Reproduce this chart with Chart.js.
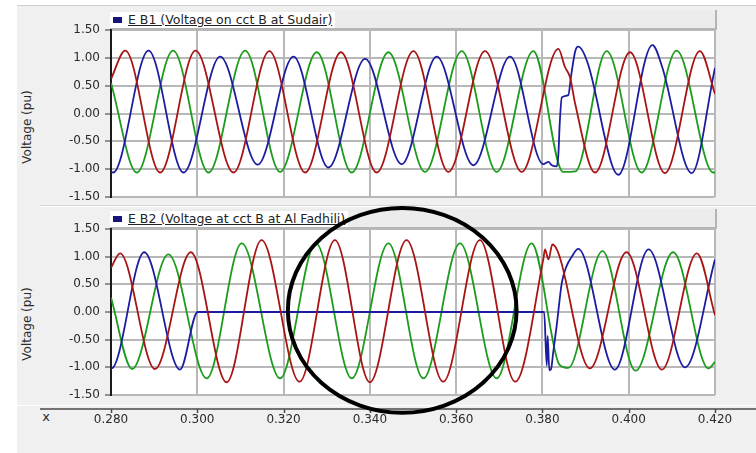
<!DOCTYPE html>
<html lang="en">
<head>
<meta charset="UTF-8" />
<title>Voltage on cct B</title>
<script src="https://cdn.jsdelivr.net/npm/chart.js"></script>
<style>
  * { margin: 0; padding: 0; box-sizing: border-box; }
  body { width: 756px; height: 453px; background: #fff; position: relative; overflow: hidden; font-family: "DejaVu Sans", sans-serif; color: #2a2a2a; }
  #frame { position: absolute; left: 17px; top: 5px; right: 0; bottom: 0; background: #f0f0f0; border-top: 1px solid #cfcfcf; }
  .sep { position: absolute; left: 40px; right: 0; height: 1px; }
  .hdr { position: absolute; left: 110px; width: 607px; height: 20px; background: #ececec; border-right: 2px solid #b4b4b4; border-bottom: 2px solid #b4b4b4; }
  .item { position: absolute; left: 0; top: 2px; height: 16px; background: #fff; padding-left: 18px; padding-right: 3px; font-size: 12.5px; line-height: 16px; color: #222; text-decoration: underline; white-space: nowrap; }
  .item i { position: absolute; left: 3px; top: 5px; width: 9px; height: 6px; background: #14147a; }
  .ytitle { position: absolute; left: 27px; font-size: 12px; white-space: nowrap; transform: translate(-50%, -50%) rotate(-90deg); }
  #xname { position: absolute; left: 46px; top: 416px; transform: translate(-50%, -50%); font-size: 13px; }
  .box { position: absolute; left: 0; width: 756px; }
</style>
</head>
<body>
<div id="frame"></div>
<div class="sep" style="top:205px;background:#d6d6d6"></div>
<div class="sep" style="top:206px;background:#fff"></div>
<div class="hdr" style="top:10px"><span class="item"><i></i>E B1 (Voltage on cct B at Sudair)</span></div>
<div class="hdr" style="top:209px"><span class="item"><i></i>E B2 (Voltage at cct B at Al Fadhili)</span></div>
<div class="ytitle" style="top:127px">Voltage (pu)</div>
<div class="ytitle" style="top:324px">Voltage (pu)</div>
<div id="xname">x</div>
<div class="box" style="top:0;height:205px"><canvas id="topChart"></canvas></div>
<div class="box" style="top:205px;height:248px"><canvas id="bottomChart"></canvas></div>

<script>
  // axis ranges
  const xMin = 0.28, xMax = 0.42, xStep = 0.02;
  const yMin = -1.5, yMax = 1.5, yStep = 0.5;

  // E B1 (Sudair): [time s, voltage pu], peaks / troughs
  const b1Red = [
    [0.2800, 0.62], [0.2833, 1.13], [0.2914, -1.06], [0.2996, 1.13], [0.3084, -1.06],
    [0.3167, 1.12], [0.3250, -1.06], [0.3333, 1.10], [0.3416, -1.06], [0.3501, 1.12],
    [0.3582, -1.05], [0.3667, 1.12], [0.3752, -1.05], [0.3837, 1.16], [0.3852, 0.84],
    [0.3864, 0.65], [0.3876, 0.17], [0.3922, -1.06], [0.4003, 1.10], [0.4084, -1.07],
    [0.4165, 1.12], [0.4200, 0.35]
  ];
  const b1Blue = [
    [0.2800, -1.05], [0.2805, -1.06], [0.2887, 1.13], [0.2968, -1.06], [0.3053, 1.02],
    [0.3140, -0.92], [0.3223, 1.02], [0.3304, -0.97], [0.3389, 0.98], [0.3474, -0.91],
    [0.3555, 1.02], [0.3640, -0.93], [0.3725, 1.02], [0.3802, -0.91], [0.3814, -0.87],
    [0.3822, -0.93], [0.3833, -0.95], [0.3837, -0.73], [0.3840, -0.19], [0.3845, 0.29],
    [0.3860, 0.33], [0.3866, 0.65], [0.3876, 1.12], [0.3883, 1.20], [0.3906, 0.88],
    [0.3961, -0.92], [0.3976, -1.10], [0.4055, 1.23], [0.4077, 0.85], [0.4146, -1.07],
    [0.4200, 0.82]
  ];
  const b1Green = [
    [0.2800, 0.55], [0.2860, -1.06], [0.2944, 1.13], [0.3026, -1.06], [0.3111, 1.13],
    [0.3192, -1.05], [0.3277, 1.10], [0.3358, -1.06], [0.3443, 1.10], [0.3528, -1.05],
    [0.3613, 1.12], [0.3694, -1.05], [0.3779, 1.12], [0.3848, -1.05], [0.3876, -1.04],
    [0.3949, 1.12], [0.4030, -1.06], [0.4111, 1.13], [0.4196, -1.06], [0.4200, -1.06]
  ];

  // E B2 (Al Fadhili)
  const b2Red = [
    [0.2800, 0.80], [0.2821, 1.06], [0.2902, -1.03], [0.2985, 1.08], [0.3068, -1.27],
    [0.3149, 1.30], [0.3237, -1.26], [0.3319, 1.30], [0.3400, -1.27], [0.3485, 1.30],
    [0.3570, -1.26], [0.3655, 1.30], [0.3737, -1.26], [0.3802, 0.95], [0.3806, 1.13],
    [0.3814, 0.95], [0.3823, 1.22], [0.3910, -1.02], [0.3995, 1.08], [0.4077, -1.04],
    [0.4158, 1.06], [0.4200, -0.06]
  ];
  const b2Blue = [
    [0.2800, -1.02], [0.2801, -1.02], [0.2877, 1.08], [0.2960, -1.04], [0.3001, 0.00],
    [0.3804, 0.00], [0.3810, -0.97], [0.3812, -0.43], [0.3816, -1.05], [0.3820, -1.03],
    [0.3825, -0.73], [0.3833, -0.25], [0.3845, 0.53], [0.3856, 0.83], [0.3868, 1.00],
    [0.3883, 1.14], [0.3968, -1.04], [0.4046, 1.13], [0.4131, -1.00], [0.4200, 0.95]
  ];
  const b2Green = [
    [0.2800, 0.26], [0.2849, -1.03], [0.2933, 1.04], [0.3022, -1.20], [0.3103, 1.24],
    [0.3192, -1.20], [0.3275, 1.24], [0.3358, -1.20], [0.3443, 1.24], [0.3524, -1.20],
    [0.3609, 1.24], [0.3694, -1.20], [0.3775, 1.24], [0.3837, -0.92], [0.3850, -1.00],
    [0.3860, -1.01], [0.3939, 1.10], [0.4016, -1.06], [0.4103, 1.08], [0.4185, -1.02],
    [0.4200, -0.90]
  ];

  // hand-drawn ring on the lower panel (data units: centre, half width / half height)
  const ringCenter = [0.3475, 0.03];
  const ringRadius = [0.0265, 1.85];

  const phaseColors = ["#a81414", "#1c1ca0", "#1c9c1c"];
  const gridColor = "#b8b8b8";
  const tickFont = { family: "DejaVu Sans", size: 12 };

  function toPoints(pairs) {
    return pairs.map((p) => ({ x: p[0], y: p[1] }));
  }

  // white plot area
  const plotBg = {
    id: "plotBg",
    beforeDraw(chart) {
      const { ctx, chartArea: a } = chart;
      ctx.save();
      ctx.fillStyle = "#fff";
      ctx.fillRect(a.left, a.top, a.right - a.left, a.bottom - a.top);
      ctx.restore();
    },
  };

  // separate time axis line below the lower panel
  const xAxisLine = {
    id: "xAxisLine",
    afterDraw(chart) {
      const { ctx, chartArea: a, scales } = chart;
      const y = a.bottom + 14;
      ctx.save();
      ctx.strokeStyle = "#fff";
      ctx.lineWidth = 1;
      ctx.beginPath();
      ctx.moveTo(0, a.bottom + 10.5);
      ctx.lineTo(chart.width, a.bottom + 10.5);
      ctx.stroke();
      ctx.strokeStyle = "#4a4a4a";
      ctx.lineWidth = 1.5;
      ctx.beginPath();
      ctx.moveTo(40, y);
      ctx.lineTo(chart.width, y);
      scales.x.ticks.forEach((t) => {
        const px = Math.round(scales.x.getPixelForValue(t.value)) + 0.5;
        ctx.moveTo(px, y);
        ctx.lineTo(px, y + 4);
      });
      ctx.stroke();
      ctx.restore();
    },
  };

  const ring = {
    id: "ring",
    afterDraw(chart) {
      const { ctx, scales } = chart;
      const cx = scales.x.getPixelForValue(ringCenter[0]);
      const cy = scales.y.getPixelForValue(ringCenter[1]);
      const rx = scales.x.getPixelForValue(ringCenter[0] + ringRadius[0]) - cx;
      const ry = cy - scales.y.getPixelForValue(ringCenter[1] + ringRadius[1]);
      ctx.save();
      ctx.beginPath();
      ctx.ellipse(cx, cy, rx, ry, 0, 0, Math.PI * 2);
      ctx.lineWidth = 4;
      ctx.strokeStyle = "#000";
      ctx.stroke();
      ctx.restore();
    },
  };

  function makePanel(id, series, showX, pad, extra) {
    return new Chart(document.getElementById(id), {
      type: "line",
      data: {
        datasets: series.map((s, i) => ({
          data: toPoints(s),
          borderColor: phaseColors[i],
          borderWidth: 1.8,
          pointRadius: 0,
          cubicInterpolationMode: "monotone",
          fill: false,
        })),
      },
      options: {
        responsive: true,
        maintainAspectRatio: false,
        animation: false,
        layout: { padding: pad },
        plugins: { legend: { display: false }, tooltip: { enabled: false } },
        scales: {
          x: {
            type: "linear",
            min: xMin,
            max: xMax,
            border: { display: false },
            grid: { color: gridColor, lineWidth: 2, drawTicks: false },
            ticks: {
              display: showX,
              stepSize: xStep,
              padding: 18,
              maxRotation: 0,
              autoSkip: false,
              color: "#2a2a2a",
              font: tickFont,
              callback: (v) => v.toFixed(3),
            },
            afterFit: (s) => {
              s.height = showX ? 40 : 0;
              s.paddingLeft = 0;
              s.paddingRight = 0;
            },
          },
          y: {
            min: yMin,
            max: yMax,
            border: { color: "#1a1a1a", width: 2 },
            grid: { color: gridColor, lineWidth: 2, tickLength: 6, tickColor: "#333", tickWidth: 1 },
            ticks: {
              stepSize: yStep,
              padding: 5,
              color: "#2a2a2a",
              font: tickFont,
              callback: (v) => v.toFixed(2),
            },
            afterFit: (s) => {
              s.width = 111;
              s.paddingTop = 0;
              s.paddingBottom = 0;
            },
          },
        },
      },
      plugins: [plotBg].concat(extra),
    });
  }

  makePanel("topChart", [b1Red, b1Blue, b1Green], false, { top: 30, right: 41, bottom: 8, left: 0 }, []);
  makePanel("bottomChart", [b2Red, b2Blue, b2Green], true, { top: 24, right: 41, bottom: 18, left: 0 }, [xAxisLine, ring]);
</script>
</body>
</html>
